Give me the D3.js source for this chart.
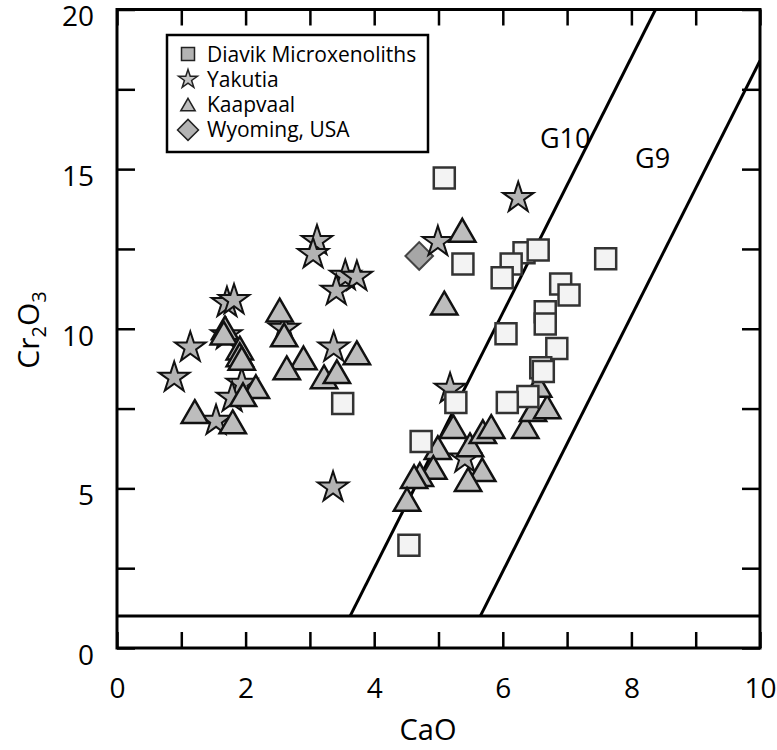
<!DOCTYPE html>
<html>
<head>
<meta charset="utf-8">
<script src="https://cdn.jsdelivr.net/npm/d3@7"></script>
<style>
html,body{margin:0;padding:0;background:#fff;}
svg{display:block;font-family:"Open Sans",sans-serif;}
</style>
</head>
<body>
<svg id="chart" width="777" height="750"></svg>
<script>
// ---- data (CaO, Cr2O3 wt%) ----
const diavik = [
  [5.09,14.72],[5.38,12.03],[6.33,12.38],[6.55,12.47],[6.13,12.03],[5.99,11.6],
  [7.6,12.19],[6.9,11.4],[7.03,11.06],[6.66,10.53],[6.66,10.15],[6.05,9.84],
  [6.84,9.38],[6.59,8.78],[6.63,8.66],[6.39,7.88],[6.07,7.69],[5.27,7.69],
  [4.73,6.47],[4.54,3.22],[3.51,7.66]
];
const yakutia = [
  [6.24,14.1],[4.99,12.72],[3.11,12.75],[3.05,12.34],[3.55,11.66],[3.73,11.63],
  [3.41,11.19],[3.37,9.41],[1.14,9.41],[0.89,8.47],[1.71,10.81],[1.82,10.9],
  [1.70,9.8],[2.6,10.0],[1.94,8.28],[1.79,7.84],[1.54,7.12],[3.36,5.03],
  [5.41,5.94],[5.18,8.12]
];
const kaapvaal = [
  [2.53,10.56],[2.60,9.78],[1.68,10.0],[1.66,9.84],[1.91,9.37],[1.91,9.16],
  [1.94,9.05],[2.90,9.06],[3.73,9.22],[2.64,8.75],[3.22,8.47],[3.42,8.63],
  [2.16,8.16],[1.96,7.91],[1.21,7.38],[1.80,7.06],[5.37,13.06],[5.09,10.78],
  [5.23,6.91],[4.99,6.25],[4.92,5.63],[4.71,5.41],[4.62,5.34],[4.51,4.63],
  [5.49,6.34],[5.68,5.56],[5.46,5.25],[5.69,6.75],[5.82,6.91],[6.35,6.91],
  [6.47,7.44],[6.69,7.53],[6.55,8.2]
];
const wyoming = [[4.7,12.28]];
// field boundaries
const g10Line = [[3.625,1],[8.375,20]];
const g9Line = [[5.65,1],[10,18.4]];
const baseLine = [[0,1],[10,1]];
const fieldLabels = [{t:"G10",x:6.97,y:15.66},{t:"G9",x:8.33,y:15.03}];
const xTicks = [0,1,2,3,4,5,6,7,8,9,10];
const xLabelTicks = [0,2,4,6,8,10];
const yTicks = [0,2.5,5,7.5,10,12.5,15,17.5,20];
const yLabelTicks = [0,5,10,15,20];
const legendItems = [
  {name:"Diavik Microxenoliths", type:"square"},
  {name:"Yakutia", type:"star"},
  {name:"Kaapvaal", type:"triangle"},
  {name:"Wyoming, USA", type:"diamond"}
];

const svg = d3.select("#chart");
const L=117, R=760, T=9.5, B=648;
const x = d3.scaleLinear().domain([0,10]).range([L,R]);
const y = d3.scaleLinear().domain([0,20]).range([B,T]);

svg.append("defs").append("clipPath").attr("id","clip")
  .append("rect").attr("x",L).attr("y",T).attr("width",R-L).attr("height",B-T);

const line = d3.line().x(d=>x(d[0])).y(d=>y(d[1]));
const lg = svg.append("g").attr("clip-path","url(#clip)");
[g10Line,g9Line,baseLine].forEach(l=>{
  lg.append("path").attr("d",line(l)).attr("fill","none").attr("stroke","#000").attr("stroke-width",3);
});

// axes
const axB = svg.append("g").attr("transform",`translate(0,${B})`)
  .call(d3.axisBottom(x).tickValues(xTicks).tickSize(-16).tickPadding(30)
    .tickFormat(d=>xLabelTicks.includes(d)?d:""));
const axT = svg.append("g").attr("transform",`translate(0,${T})`)
  .call(d3.axisTop(x).tickValues(xTicks).tickSize(-16).tickFormat(""));
const axL = svg.append("g").attr("transform",`translate(${L},0)`)
  .call(d3.axisLeft(y).tickValues(yTicks).tickSize(-18).tickPadding(23)
    .tickFormat(d=>yLabelTicks.includes(d)?d:""));
const axR = svg.append("g").attr("transform",`translate(${R},0)`)
  .call(d3.axisRight(y).tickValues(yTicks).tickSize(-18).tickFormat(""));
[axB,axT,axL,axR].forEach(a=>{
  a.select(".domain").remove();
  a.selectAll(".tick line").attr("stroke","#000").attr("stroke-width",2.5);
  a.selectAll("text").attr("font-family","'Open Sans',sans-serif").attr("font-size",28).attr("fill","#000");
});
axL.selectAll("text").attr("dy","0.58em");

svg.append("rect").attr("x",L).attr("y",T).attr("width",R-L).attr("height",B-T)
  .attr("fill","none").attr("stroke","#000").attr("stroke-width",3);

// field labels
svg.selectAll(".flab").data(fieldLabels).enter().append("text")
  .attr("x",d=>x(d.x)).attr("y",d=>y(d.y)).attr("text-anchor","middle")
  .attr("font-size",27).attr("fill","#000").text(d=>d.t);

// axis titles
svg.append("text").attr("x",428).attr("y",740).attr("text-anchor","middle")
  .attr("font-size",29).text("CaO");
const yt = svg.append("text").attr("transform","translate(39,330) rotate(-90)")
  .attr("text-anchor","middle").attr("font-size",30);
yt.append("tspan").text("Cr");
yt.append("tspan").attr("font-size",20).attr("dy",7).text("2");
yt.append("tspan").attr("dy",-7).text("O");
yt.append("tspan").attr("font-size",20).attr("dy",7).text("3");

// symbols
const sym = {
  square: d3.symbol().type(d3.symbolSquare).size(441)(),
  star: d3.symbol().type(d3.symbolStar).size(290)(),
  triangle: d3.symbol().type(d3.symbolTriangle).size(300)(),
  diamond: d3.symbol().type(d3.symbolSquare).size(380)()
};
const pg = svg.append("g");
function draw(data, type, fill, stroke, sw){
  pg.append("g").selectAll("path").data(data).enter().append("path")
    .attr("d",sym[type])
    .attr("transform",d=>`translate(${x(d[0])},${y(d[1])})`+(type==="diamond"?" rotate(45)":"")+(type==="triangle"?" translate(0,3)":""))
    .attr("fill",fill).attr("stroke",stroke).attr("stroke-width",sw).attr("stroke-linejoin","miter");
}
draw(wyoming,"diamond","#a6a6a6","#444",2);
draw(yakutia,"star","#b3b3b3","#111",2);
draw(kaapvaal,"triangle","#bdbdbd","#111",2.5);
draw(diavik,"square","#f3f3f3","#333",2.5);

// legend
const leg = svg.append("g");
leg.append("rect").attr("x",167).attr("y",35).attr("width",261).attr("height",117)
  .attr("fill","#fff").attr("stroke","#000").attr("stroke-width",2.5);
const legSym = {
  square: d3.symbol().type(d3.symbolSquare).size(169)(),
  star: d3.symbol().type(d3.symbolStar).size(110)(),
  triangle: d3.symbol().type(d3.symbolTriangle).size(90)(),
  diamond: d3.symbol().type(d3.symbolSquare).size(220)()
};
const legFill = {square:"#b3b3b3",star:"#c4c4c4",triangle:"#bdbdbd",diamond:"#b3b3b3"};
legendItems.forEach((it,i)=>{
  const cy = 54 + i*25.3;
  leg.append("path").attr("d",legSym[it.type])
    .attr("transform",`translate(188,${cy+ (it.type==="triangle"?2:0)})`+(it.type==="diamond"?" rotate(45)":""))
    .attr("fill",legFill[it.type]).attr("stroke","#222").attr("stroke-width",1.5);
  leg.append("text").attr("x",207).attr("y",cy+7.5).attr("font-size",21).attr("fill","#000").text(it.name);
});
</script>
</body>
</html>
